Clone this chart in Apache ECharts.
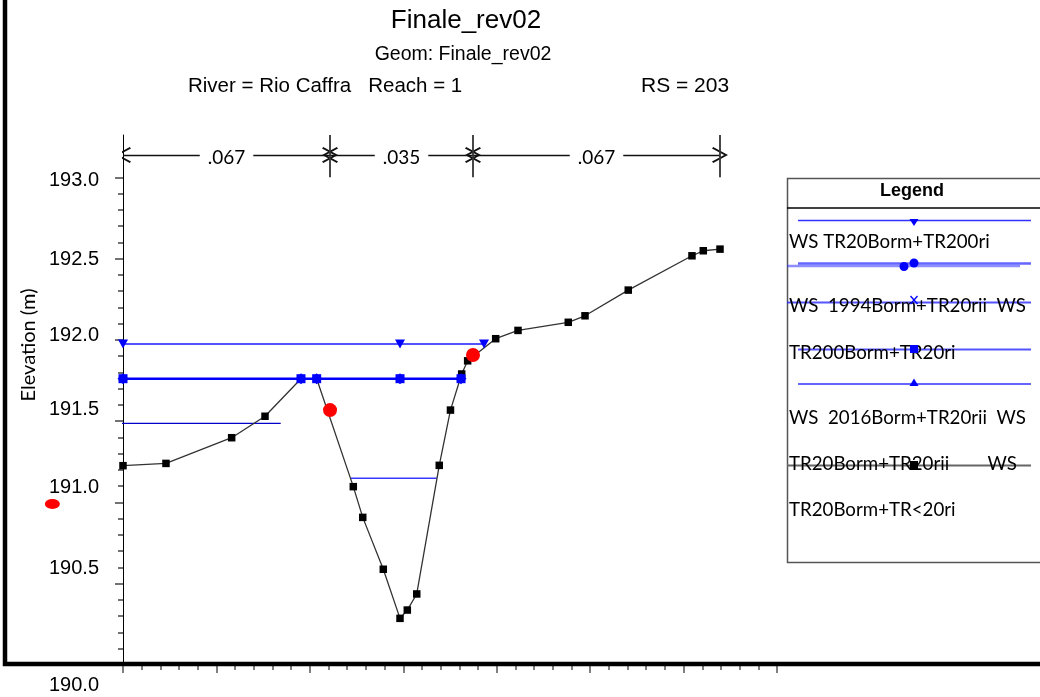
<!DOCTYPE html>
<html>
<head>
<meta charset="utf-8">
<script src="https://cdn.jsdelivr.net/npm/echarts@6/dist/echarts.min.js"></script>
<style>html,body{margin:0;padding:0;background:#fff}#c{width:1040px;height:697px}</style>
</head>
<body>
<div id="c"></div>
<script>
// ---- data ----
const groundStation = [0, 4.60, 11.63, 15.20, 19.05, 20.73, 24.65, 25.66, 27.86, 29.65, 30.43, 31.44, 33.85, 35.05, 36.25, 36.89, 39.89, 42.28, 47.66, 49.45, 54.08, 60.90, 62.11, 63.90];
const groundElev = [191.226, 191.240, 191.398, 191.530, 191.761, 191.761, 191.097, 190.908, 190.589, 190.287, 190.338, 190.437, 191.228, 191.568, 191.790, 191.871, 192.007, 192.058, 192.108, 192.148, 192.306, 192.517, 192.548, 192.558];
const ws1Station = [0, 29.65, 38.64];
const ws1Elev = 191.974;
const ws2Station = [0, 19.05, 20.73, 29.65, 36.18];
const ws2Elev = 191.761;
const ws3Station = [-8.03, 16.88];
const ws3Elev = 191.486;
const ws4Station = [24.4, 33.6];
const ws4Elev = 191.148;
const bankStation = [22.16, 37.46, -7.56];
const bankElev = [191.568, 191.907, 190.99];
const nBoundaries = [0, 22.16, 37.46, 63.90];
const nValues = ['.067', '.035', '.067'];
const nLineElev = 193.137;
const nTickBottom = 193.0;
const yMajorTicks = [190.0, 190.5, 191.0, 191.5, 192.0, 192.5, 193.0];
const yTickLabels = ['190.0', '190.5', '191.0', '191.5', '192.0', '192.5', '193.0'];
const legendItems = ['WS TR20Borm+TR200ri', 'WS  1994Borm+TR20rii  WS', 'TR200Borm+TR20ri', 'WS  2016Borm+TR20rii  WS', 'TR20Borm+TR20rii        WS', 'TR20Borm+TR<20ri'];

// ---- build ----
const yMin = 190, yMax = 193.26;
const yMinorTicks = [];
for (let v = 190.1; v < 193.0; v += 0.1) {
  const r = Math.round(v * 10) / 10;
  if (Math.round(r * 10) % 5 !== 0) yMinorTicks.push(r);
}
// vertical shift of each tick label (style)
const labelShift = {'190.0': 19.5, '190.5': -14.5, '191.0': -14, '191.5': -11, '192.0': -3.5, '192.5': 0, '193.0': 3};
const rich = {};
yTickLabels.forEach((s, i) => {
  const d = labelShift[s];
  rich['k' + i] = {
    fontFamily: 'Liberation Sans', fontSize: 20, color: '#000',
    lineHeight: 21 + 2 * Math.abs(d),
    verticalAlign: d < 0 ? 'top' : 'bottom'
  };
});

const chevron = 'path://M5,0 L10,10 L9,10.8 L5,2.6 L1,10.8 L0,10 Z';

const nSegments = nValues.map((v, i) => ({coords: [[nBoundaries[i], nLineElev], [nBoundaries[i + 1], nLineElev]]}));
const nTicks = nBoundaries.slice(1).map(b => ({coords: [[b, nTickBottom], [b, yMax]]}));
const nLabels = nValues.map((v, i) => ({value: [(nBoundaries[i] + nBoundaries[i + 1]) / 2, nLineElev], name: v}));

const legendFont = 'Lato';
const legendTextY = [242, 306, 353, 418, 464, 510];

const graphics = [
  // outer frame (left + bottom)
  {type: 'polyline', z: 100, shape: {points: [[5, 0], [5, 664], [1040, 664]]}, style: {stroke: '#000', lineWidth: 4.5, fill: null}},
  // legend box
  {type: 'rect', z: 50, shape: {x: 787.5, y: 178.5, width: 270, height: 384}, style: {stroke: '#555', lineWidth: 1.5, fill: '#fff'}},
  {type: 'line', z: 51, shape: {x1: 787, y1: 208, x2: 1040, y2: 208}, style: {stroke: '#000', lineWidth: 1.5}},
  {type: 'text', z: 52, x: 912, y: 191, style: {text: 'Legend', font: 'bold 18px "Liberation Sans"', fill: '#000', align: 'center', verticalAlign: 'middle'}},
  // row lines & markers
  {type: 'line', z: 51, shape: {x1: 798, y1: 220.5, x2: 1031, y2: 220.5}, style: {stroke: '#3030ff', lineWidth: 1.5}},
  {type: 'polygon', z: 53, shape: {points: [[909.5, 219], [918.5, 219], [914, 226]]}, style: {fill: '#0000ff'}},
  {type: 'line', z: 51, shape: {x1: 798, y1: 263.5, x2: 1031, y2: 263.5}, style: {stroke: 'rgba(50,50,255,0.75)', lineWidth: 2.5}},
  {type: 'line', z: 51, shape: {x1: 787, y1: 266, x2: 1020, y2: 266}, style: {stroke: 'rgba(50,50,255,0.55)', lineWidth: 2.5}},
  {type: 'circle', z: 53, shape: {cx: 904, cy: 266.5, r: 4.5}, style: {fill: '#0000ff'}},
  {type: 'circle', z: 53, shape: {cx: 914, cy: 263, r: 4.5}, style: {fill: '#0000ff'}},
  {type: 'line', z: 51, shape: {x1: 787, y1: 302.5, x2: 1031, y2: 302.5}, style: {stroke: 'rgba(40,40,255,0.8)', lineWidth: 2}},
  {type: 'line', z: 53, shape: {x1: 910.5, y1: 296, x2: 917.5, y2: 304}, style: {stroke: '#0000ff', lineWidth: 1.3}},
  {type: 'line', z: 53, shape: {x1: 917.5, y1: 296, x2: 910.5, y2: 304}, style: {stroke: '#0000ff', lineWidth: 1.3}},
  {type: 'line', z: 51, shape: {x1: 798, y1: 349.5, x2: 1031, y2: 349.5}, style: {stroke: 'rgba(40,40,255,0.8)', lineWidth: 2}},
  {type: 'rect', z: 53, shape: {x: 910, y: 345, width: 8, height: 8}, style: {fill: '#0000ff'}},
  {type: 'line', z: 51, shape: {x1: 798, y1: 384, x2: 1031, y2: 384}, style: {stroke: '#3030ff', lineWidth: 1.5}},
  {type: 'polygon', z: 53, shape: {points: [[909.5, 386], [918.5, 386], [914, 378.5]]}, style: {fill: '#0000ff'}},
  {type: 'line', z: 51, shape: {x1: 787, y1: 465.5, x2: 1031, y2: 465.5}, style: {stroke: '#666', lineWidth: 2}},
  {type: 'rect', z: 53, shape: {x: 910, y: 461, width: 8, height: 9}, style: {fill: '#000'}}
];
legendItems.forEach((t, i) => {
  graphics.push({type: 'text', z: 52, x: 789, y: legendTextY[i], style: {text: t, font: '18.7px ' + legendFont, fill: '#000', align: 'left', verticalAlign: 'middle'}});
});

const option = {
  backgroundColor: '#fff',
  animation: false,
  title: [
    {text: 'Finale_rev02', left: 466, top: 21, textAlign: 'center', textVerticalAlign: 'middle', padding: 0, textStyle: {fontFamily: 'Liberation Sans', fontSize: 26, fontWeight: 'normal', color: '#000'}},
    {text: 'Geom: Finale_rev02', left: 463, top: 55, textAlign: 'center', textVerticalAlign: 'middle', padding: 0, textStyle: {fontFamily: 'Liberation Sans', fontSize: 19.5, fontWeight: 'normal', color: '#000'}},
    {text: 'River = Rio Caffra   Reach = 1', left: 188, top: 86, textAlign: 'left', textVerticalAlign: 'middle', padding: 0, textStyle: {fontFamily: 'Liberation Sans', fontSize: 20.5, fontWeight: 'normal', color: '#000'}},
    {text: 'RS = 203', left: 641, top: 86, textAlign: 'left', textVerticalAlign: 'middle', padding: 0, textStyle: {fontFamily: 'Liberation Sans', fontSize: 21, fontWeight: 'normal', color: '#000'}}
  ],
  grid: {left: 123, right: 263, top: 135, bottom: 32, containLabel: false},
  xAxis: {
    type: 'value', min: 0, max: 70, interval: 10,
    axisLine: {show: false},
    axisTick: {show: true, length: 8, lineStyle: {color: '#555', width: 1.5}},
    minorTick: {show: true, splitNumber: 5, length: 5, lineStyle: {color: '#555', width: 1.5}},
    axisLabel: {show: false},
    splitLine: {show: false}
  },
  yAxis: [
    {
      type: 'value', min: yMin, max: yMax, position: 'left',
      name: 'Elevation (m)', nameLocation: 'middle', nameGap: 82, nameRotate: 90,
      nameTextStyle: {fontFamily: 'Lato', fontSize: 20, color: '#000', padding: [0, 0, 0, 110]},
      axisLine: {show: true, lineStyle: {color: '#000', width: 1}},
      axisTick: {show: true, length: 8, customValues: yMajorTicks, lineStyle: {color: '#444', width: 1.5}},
      axisLabel: {
        show: true, margin: 24, customValues: yMajorTicks,
        formatter: function (v) {
          const s = v.toFixed(1);
          const i = yTickLabels.indexOf(s);
          return '{k' + i + '|' + yTickLabels[i] + '}';
        },
        rich: rich
      },
      splitLine: {show: false}
    },
    {
      type: 'value', min: yMin, max: yMax, position: 'left', offset: 0,
      axisLine: {show: false},
      axisTick: {show: true, length: 5, customValues: yMinorTicks, lineStyle: {color: '#444', width: 1.5}},
      axisLabel: {show: false},
      splitLine: {show: false}
    }
  ],
  series: [
    {
      name: 'Ground', type: 'line', z: 3,
      data: groundStation.map((x, i) => [x, groundElev[i]]),
      lineStyle: {color: '#333', width: 1.3},
      symbol: 'rect', symbolSize: 7.5, itemStyle: {color: '#000'}
    },
    {
      name: 'WS1', type: 'line', z: 4,
      data: ws1Station.map(x => [x, ws1Elev]),
      lineStyle: {color: '#1a1aff', width: 1.5},
      symbol: 'triangle', symbolRotate: 180, symbolSize: [10, 9], itemStyle: {color: '#0000ff'}
    },
    {
      name: 'WS2', type: 'line', z: 4,
      data: ws2Station.map(x => [x, ws2Elev]),
      lineStyle: {color: '#0000ff', width: 2.5},
      symbol: 'rect', symbolSize: 9, itemStyle: {color: '#0000ff'}
    },
    {
      name: 'WS2x', type: 'line', z: 4,
      data: ws2Station.map(x => [x, ws2Elev]),
      lineStyle: {width: 0},
      symbol: 'diamond', symbolSize: 11, itemStyle: {color: '#0000ff'}
    },
    {
      name: 'WS3', type: 'line', z: 2, clip: false,
      data: ws3Station.map(x => [x, ws3Elev]),
      lineStyle: {color: '#0000c8', width: 1.2},
      symbol: 'none'
    },
    {
      name: 'WS4', type: 'line', z: 2,
      data: ws4Station.map(x => [x, ws4Elev]),
      lineStyle: {color: '#3a3aff', width: 1.5},
      symbol: 'none'
    },
    {
      name: 'Bank', type: 'scatter', z: 5, clip: false,
      data: bankStation.map((x, i) => i === 2 ? {value: [x, bankElev[i]], symbolSize: [15, 10]} : [x, bankElev[i]]),
      symbol: 'circle', symbolSize: 14, itemStyle: {color: '#ff0000', opacity: 1}
    },
    {
      name: 'nLines', type: 'lines', coordinateSystem: 'cartesian2d', z: 3,
      data: nSegments,
      symbol: [chevron, chevron], symbolSize: 16,
      lineStyle: {color: '#111', width: 1.3, opacity: 1},
      itemStyle: {color: '#111'}
    },
    {
      name: 'nTicks', type: 'lines', coordinateSystem: 'cartesian2d', z: 3,
      data: nTicks, symbol: ['none', 'none'],
      lineStyle: {color: '#333', width: 1.8, opacity: 1}
    },
    {
      name: 'nLabels', type: 'scatter', z: 6,
      data: nLabels, symbolSize: 1, itemStyle: {color: '#fff', opacity: 1},
      label: {show: true, position: 'inside', offset: [0, 3], formatter: '{b}', fontFamily: 'Lato', fontSize: 19, color: '#000', textBorderWidth: 0, textBorderColor: 'transparent', backgroundColor: '#fff', padding: [0, 8]}
    }
  ],
  graphic: graphics
};

const chart = echarts.init(document.getElementById('c'), null, {renderer: 'canvas'});
chart.setOption(option);
</script>
</body>
</html>
